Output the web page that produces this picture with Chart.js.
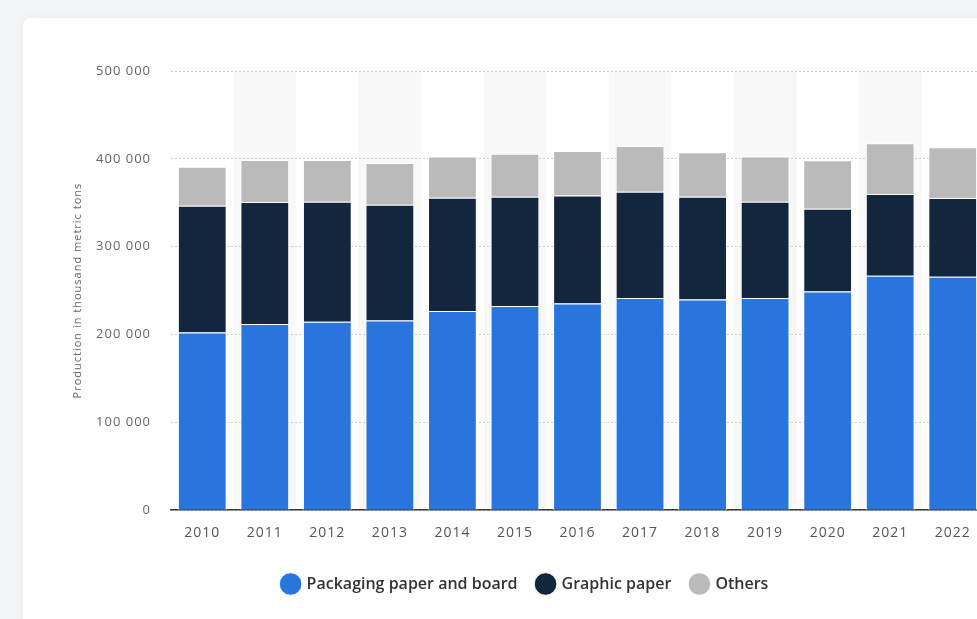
<!DOCTYPE html>
<html>
<head>
<meta charset="utf-8">
<script src="https://cdn.jsdelivr.net/npm/chart.js@4.4.0/dist/chart.umd.min.js"></script>
<style>
  html, body { margin: 0; padding: 0; width: 977px; height: 619px; overflow: hidden; background: #f4f5f7; }
  .card {
    position: absolute; left: 23px; top: 18px; width: 1010px; height: 640px;
    background: #fff; border-radius: 8px; box-shadow: 0 0 12px rgba(0,0,0,0.05);
  }
  #wrap { position: absolute; left: 0; top: 0; width: 1002px; height: 601px; }
</style>
</head>
<body>
<div class="card">
  <div id="wrap"><canvas id="chart"></canvas></div>
</div>
<script>
// 年
const years = ["2010","2011","2012","2013","2014","2015","2016","2017","2018","2019","2020","2021","2022"];

// 生産量（千トン）
const packaging = [202400, 211900, 214500, 216000, 226700, 232400, 235400, 241500, 240000, 241500, 249100, 266900, 265700];
const graphic = [144200, 138900, 136700, 131800, 129000, 124500, 123000, 121100, 116900, 109700, 94100, 93000, 89700];
const others = [44300, 47900, 47500, 47400, 47100, 48900, 50500, 52000, 50500, 51600, 55100, 57800, 57700];

const yTicks = [0, 100000, 200000, 300000, 400000, 500000];

const FONT = "'Open Sans', 'Noto Sans', sans-serif";

// 奇数列の背景を塗る
const stripes = {
  id: "stripes",
  afterLayout(chart) {
    // 軸タイトルも字間を広げる
    const y = chart.scales.y;
    if (!y._spaced) {
      const orig = y.drawTitle;
      y.drawTitle = function () {
        chart.ctx.letterSpacing = "1px";
        orig.call(this);
        chart.ctx.letterSpacing = "0px";
      };
      y._spaced = true;
    }
  },
  beforeDraw(chart) {
    const { ctx, chartArea, scales } = chart;
    const x = scales.x;
    const step = x.getPixelForValue(1) - x.getPixelForValue(0);
    ctx.save();
    ctx.fillStyle = "#f8f8f8";
    years.forEach((y, i) => {
      if (i % 2 === 1) {
        const cx = x.getPixelForValue(i);
        ctx.fillRect(cx - step / 2, chartArea.top, step, chartArea.bottom - chartArea.top);
      }
    });
    ctx.restore();
  },
  // 軸ラベルは字間を広げる（凡例はそのまま）
  afterDatasetsDraw(chart) {
    chart.ctx.letterSpacing = "1px";
  },
  afterDraw(chart) {
    chart.ctx.letterSpacing = "0px";
  },
};

const ds = (label, data, color) => ({
  label,
  data,
  backgroundColor: color,
  borderColor: "#ffffff",
  borderWidth: 1,
  borderSkipped: "start",
  categoryPercentage: 1,
  barPercentage: 0.78,
});

new Chart(document.getElementById("chart"), {
  type: "bar",
  data: {
    labels: years,
    datasets: [
      ds("Packaging paper and board", packaging, "#2876dd"),
      ds("Graphic paper", graphic, "#12263d"),
      ds("Others", others, "#bababa"),
    ],
  },
  options: {
    responsive: true,
    maintainAspectRatio: false,
    animation: false,
    layout: { padding: { left: 44, right: 41, top: 53, bottom: 17 } },
    plugins: {
      tooltip: { enabled: false },
      legend: {
        position: "bottom",
        labels: {
          usePointStyle: true,
          pointStyle: "circle",
          boxWidth: 16,
          boxHeight: 16,
          padding: 20,
          color: "#333",
          font: { family: FONT, size: 16, weight: "600" },
        },
      },
    },
    scales: {
      x: {
        stacked: true,
        grid: { display: false },
        border: { color: "#3a3a3a", width: 1.5 },
        afterFit(axis) {
          axis.height += 9;
        },
        ticks: {
          z: 1,
          color: "#555",
          padding: 6,
          font: { family: FONT, size: 14 },
        },
      },
      y: {
        stacked: true,
        min: 0,
        max: 500000,
        afterBuildTicks(axis) {
          axis.ticks = yTicks.map((v) => ({ value: v }));
        },
        afterFit(axis) {
          axis.width = 104;
        },
        border: { display: false, dash: [2, 2] },
        grid: {
          color: "#cccccc",
          lineWidth: 1,
          tickLength: 0,
        },
        ticks: {
          z: 1,
          color: "#666",
          padding: 20,
          font: { family: FONT, size: 13 },
          callback: (v) => v.toLocaleString("en-US").replace(/,/g, " "),
        },
        title: {
          display: true,
          text: "Production in thousand metric tons",
          color: "#666",
          padding: 4,
          font: { family: FONT, size: 11 },
        },
      },
    },
  },
  plugins: [stripes],
});
</script>
</body>
</html>
